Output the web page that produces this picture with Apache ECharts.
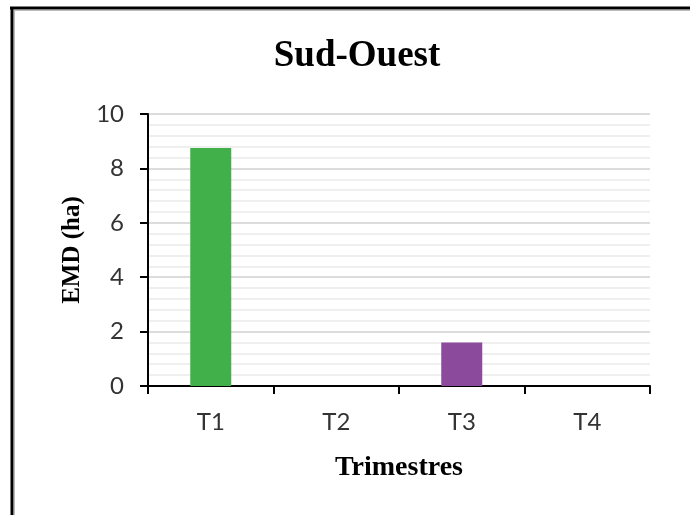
<!DOCTYPE html>
<html>
<head>
<meta charset="utf-8">
<script src="https://cdn.jsdelivr.net/npm/echarts@6/dist/echarts.min.js"></script>
<style>
  html, body { margin: 0; padding: 0; background: #fff; }
  #chart { width: 690px; height: 515px; }
</style>
</head>
<body>
<div id="chart"></div>
<script>
// Quarterly EMD values (ha), south-west region
const categories = ['T1', 'T2', 'T3', 'T4'];
const values = [8.75, 0, 1.6, 0];
const barColors = ['#41b04a', '#41b04a', '#8b4a9c', '#8b4a9c'];
const yTicks = [0, 2, 4, 6, 8, 10];

const chart = echarts.init(document.getElementById('chart'), null, { renderer: 'canvas' });

const serif = '"Liberation Serif", "Times New Roman", serif';
const sans = 'Lato, "Open Sans", sans-serif';

chart.setOption({
  animation: false,
  backgroundColor: '#ffffff',
  title: {
    text: 'Sud-Ouest',
    left: 352,
    top: 33,
    textAlign: 'center',
    textStyle: { fontFamily: serif, fontWeight: 'bold', fontSize: 37, color: '#000' }
  },
  graphic: [
    { type: 'line', shape: { x1: 12, y1: 7, x2: 12, y2: 515 }, style: { stroke: '#000', lineWidth: 3 } },
    { type: 'line', shape: { x1: 10, y1: 8, x2: 690, y2: 8 }, style: { stroke: '#000', lineWidth: 3 } },
    { type: 'line', shape: { x1: 14.5, y1: 10, x2: 14.5, y2: 515 }, style: { stroke: '#bbb', lineWidth: 1 } },
    { type: 'line', shape: { x1: 14, y1: 10.5, x2: 690, y2: 10.5 }, style: { stroke: '#bbb', lineWidth: 1 } }
  ],
  grid: { left: 148, right: 40, top: 114, bottom: 129 },
  xAxis: {
    type: 'category',
    data: categories,
    name: 'Trimestres',
    nameLocation: 'middle',
    nameGap: 68,
    nameTextStyle: { fontFamily: serif, fontWeight: 'bold', fontSize: 28, color: '#000' },
    axisLine: { lineStyle: { color: '#000', width: 2 } },
    axisTick: { show: true, length: 8, lineStyle: { color: '#000', width: 2 } },
    axisLabel: { fontFamily: sans, fontSize: 24, color: '#333', margin: 24 }
  },
  yAxis: {
    type: 'value',
    min: yTicks[0],
    max: yTicks[yTicks.length - 1],
    interval: 2,
    name: 'EMD (ha)',
    nameLocation: 'middle',
    nameGap: 59,
    nameRotate: 90,
    nameTextStyle: { fontFamily: serif, fontWeight: 'bold', fontSize: 25, color: '#000' },
    axisLine: { show: true, lineStyle: { color: '#000', width: 2 } },
    axisTick: { show: true, length: 8, lineStyle: { color: '#000', width: 2 } },
    axisLabel: { fontFamily: sans, fontSize: 24, color: '#333', margin: 24 },
    splitLine: { show: true, lineStyle: { color: '#dcdcdc', width: 2 } },
    minorTick: { show: false, splitNumber: 5 },
    minorSplitLine: { show: true, lineStyle: { color: '#efefef', width: 2 } }
  },
  series: [{
    type: 'bar',
    data: values.map((v, i) => ({ value: v, itemStyle: { color: barColors[i] } })),
    barWidth: 41
  }]
});
</script>
</body>
</html>
